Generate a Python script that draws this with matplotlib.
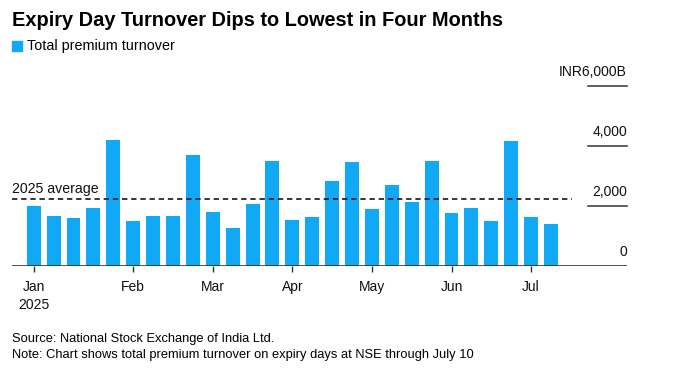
import matplotlib
matplotlib.use("Agg")
import matplotlib.pyplot as plt
import matplotlib.transforms as mtransforms

plt.rcParams['font.family'] = ['Liberation Sans', 'DejaVu Sans']

# weekly expiry-day premium turnover, INR billions (Jan 2 .. Jul 10, 2025)
turnover = [2000, 1656, 1589, 1922, 4178, 1500, 1667, 1656, 3700, 1800,
            1267, 2056, 3500, 1511, 1611, 2833, 3467, 1889, 2689, 2133,
            3500, 1756, 1933, 1489, 4144, 1611, 1378]
avg_2025 = 2238
month_pos = [0, 5, 9, 13, 17, 21, 25]
month_labels = ["Jan\n2025", "Feb", "Mar", "Apr", "May", "Jun", "Jul"]
y_ticks = [0, 2000, 4000, 6000]
y_labels = ["0", "2,000", "4,000", "INR6,000B"]

blue = "#11a9f5"

fig = plt.figure(figsize=(6.73, 3.74), dpi=100)
ax = fig.add_axes([12 / 673, 1 - 265.7 / 374, 615 / 673, 180 / 374])

x = list(range(len(turnover)))
ax.bar(x, turnover, width=0.7, color=blue, zorder=2)

ax.set_xlim(-1.09, 29.82)
ax.set_ylim(0, 6000)

# average line
ax.axhline(avg_2025, xmin=0, xmax=0.91, color="black", lw=1.1,
           ls=(0, (3.5, 2.5)), zorder=3)
ax.text(-1.09, avg_2025 + 100, "2025 average", fontsize=10.2, ha="left",
        va="bottom", color="#111111")

# baseline
ax.axhline(0, color="#333333", lw=1.2, zorder=4)

# right-side labels with short underlines
trans = mtransforms.blended_transform_factory(ax.transAxes, ax.transData)
for v, lab in zip(y_ticks, y_labels):
    if v > 0:
        ax.plot([0.9366, 1.0], [v, v], transform=trans, color="#333333",
                lw=1.1, clip_on=False)
    ax.text(1.0, v + 220, lab, transform=trans, ha="right", va="bottom",
            fontsize=10, color="#111111")

for s in ax.spines.values():
    s.set_visible(False)
ax.set_yticks([])
ax.set_xticks(month_pos)
ax.set_xticklabels(month_labels, fontsize=10, color="#111111",
                   linespacing=1.4, va="top")
ax.tick_params(axis="x", length=4, width=1, color="#333333", pad=6)

# title and legend
fig.text(12 / 673, 1 - 21 / 374, "Expiry Day Turnover Dips to Lowest in Four Months",
         fontsize=14.4, fontweight="bold", va="center", ha="left")
fig.patches.append(plt.Rectangle((12 / 673, 1 - 51 / 374), 10 / 673, 10 / 374,
                                 transform=fig.transFigure, color=blue))
fig.text(27 / 673, 1 - 46 / 374, "Total premium turnover", fontsize=10.4,
         va="center", ha="left")

# footer
fig.text(12 / 673, 1 - 339 / 374, "Source: National Stock Exchange of India Ltd.",
         fontsize=9.3, va="center", ha="left")
fig.text(12 / 673, 1 - 355 / 374,
         "Note: Chart shows total premium turnover on expiry days at NSE through July 10",
         fontsize=9.3, va="center", ha="left")

fig.savefig("out.png", dpi=100)
